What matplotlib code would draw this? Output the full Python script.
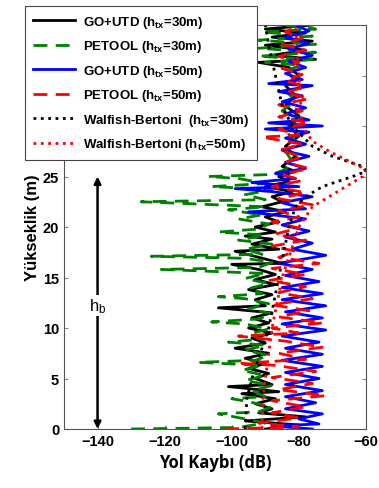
import matplotlib
matplotlib.use('Agg')
import matplotlib.pyplot as plt

plt.rcParams['font.family'] = ['Liberation Sans', 'DejaVu Sans']
plt.rcParams['mathtext.fontset'] = 'custom'
plt.rcParams['mathtext.rm'] = 'Liberation Sans'
plt.rcParams['mathtext.bf'] = 'Liberation Sans:bold'
plt.rcParams['mathtext.default'] = 'bf'

# GO+UTD, h_tx = 30 m  (height [m], path loss [dB])
h_go30 = [0.0, 0.4, 0.8, 1.2, 1.6, 2.0, 2.5, 3.0, 3.5, 3.7, 4.2, 4.4, 5.0, 5.5, 6.0, 6.5, 7.0, 7.5,
          8.0, 8.5, 9.0, 9.5, 10.0, 10.5, 11.0, 11.5, 12.0, 12.2, 12.8, 13.3, 13.8, 14.3, 14.8, 15.3,
          15.8, 16.3, 16.4, 17.0, 17.6, 17.8, 18.3, 18.8, 19.1, 19.5, 20.0, 20.5, 21.0, 21.5, 22.0,
          22.5, 23.0, 23.5, 24.0, 24.5, 25.0, 25.5, 26.0, 27.0, 28.0, 29.0, 30.0, 31.0, 32.0, 33.0,
          34.0, 35.0, 35.8, 36.3, 36.6, 37.0, 37.5, 38.0, 38.4, 38.8, 39.2, 39.6, 40.0]
loss_go30 = [-90, -80, -96, -78, -92, -88, -93, -87, -97, -86, -101, -88, -93, -89, -95, -90, -96, -89,
             -99, -90, -94, -88, -95, -89, -94, -88, -104, -90, -93, -88, -95, -87, -93, -87,
             -92, -100, -85, -92, -99, -86, -94, -88, -96, -87, -93, -86, -90, -84, -91,
             -85, -88, -82, -90, -83, -86, -81, -85, -81, -84, -80, -83, -80, -84, -81,
             -84, -80, -83, -92, -75, -88, -78, -90, -76, -88, -78, -90, -76]

# PETOOL, h_tx = 30 m
h_pe30 = [0.0, 0.15, 0.6, 1.0, 1.5, 1.7, 2.2, 2.7, 3.0, 3.2, 3.8, 4.3, 4.8, 5.3, 5.8, 6.3, 6.6, 6.8,
          7.3, 7.8, 8.3, 8.6, 8.9, 9.4, 9.9, 10.4, 10.6, 10.9, 11.4, 11.9, 12.4, 12.9, 13.1, 13.4,
          13.9, 14.4, 14.9, 15.4, 15.8, 16.0, 16.5, 16.9, 17.1, 17.3, 17.8, 18.3, 18.7, 19.2, 19.5,
          19.8, 20.3, 20.8, 21.2, 21.7, 22.0, 22.5, 22.7, 23.2, 23.7, 24.0, 24.3, 24.8, 25.0, 25.2,
          25.7, 26.5, 27.5, 28.5, 29.5, 30.5, 31.5, 32.5, 33.5, 34.5, 35.5, 36.0, 36.3, 36.6, 36.9,
          37.3, 37.7, 38.1, 38.5, 38.9, 39.3, 39.6, 40.0]
loss_pe30 = [-130, -98, -90, -96, -104, -92, -88, -95, -100, -90, -94, -88, -96, -90, -97, -91, -110, -93,
             -89, -96, -90, -101, -91, -95, -89, -96, -106, -92, -88, -95, -89, -96, -104, -91,
             -95, -89, -96, -90, -121, -92, -88, -96, -124, -91, -96, -88, -98, -90, -104,
             -92, -89, -98, -91, -101, -90, -127, -90, -96, -88, -106, -90, -98, -107, -88,
             -84, -82, -84, -81, -84, -81, -85, -81, -84, -81, -84, -79, -90, -76, -92,
             -75, -92, -75, -92, -76, -91, -75, -85]

# GO+UTD, h_tx = 50 m
h_go50 = [0.0, 0.3, 0.5, 1.0, 1.5, 2.0, 2.6, 3.2, 3.8, 4.4, 5.0, 5.6, 6.2, 6.8, 7.4, 8.0, 8.6, 9.2,
          9.8, 10.4, 11.0, 11.6, 12.2, 12.8, 13.4, 14.0, 14.6, 15.2, 15.8, 16.4, 17.2, 17.8, 18.4,
          19.0, 19.6, 20.2, 20.8, 21.5, 21.8, 22.4, 23.0, 23.5, 23.8, 24.0, 24.4, 24.8, 25.3, 25.8,
          26.4, 27.0, 27.6, 28.2, 28.8, 29.4, 29.7, 30.0, 30.3, 30.6, 31.2, 31.8, 32.4, 33.0, 33.4,
          34.0, 34.2, 34.6, 35.2, 35.8, 36.4, 37.0, 37.6, 38.2, 38.8, 39.4, 40.0]
loss_go50 = [-76, -88, -74, -80, -73, -84, -75, -84, -73, -84, -74, -84, -73, -85, -73, -84, -74, -85,
             -72, -85, -73, -84, -72, -85, -73, -85, -74, -84, -76, -86, -72, -82, -76,
             -84, -77, -85, -78, -95, -78, -85, -76, -88, -99, -80, -94, -81, -87, -78,
             -84, -77, -85, -78, -84, -77, -90, -73, -89, -77, -84, -78, -85, -79, -86,
             -76, -89, -79, -84, -78, -83, -76, -83, -77, -84, -77, -81]

# PETOOL, h_tx = 50 m
h_pe50 = [0.0, 0.2, 0.6, 1.1, 1.6, 2.2, 2.8, 3.3, 3.9, 4.5, 5.1, 5.7, 6.3, 6.5, 6.9, 7.5, 8.1, 8.7,
          9.2, 9.5, 10.0, 10.5, 11.1, 11.7, 12.3, 12.9, 13.5, 14.1, 14.7, 15.3, 15.9, 16.4, 17.0,
          17.6, 18.1, 18.7, 19.3, 19.9, 20.5, 21.0, 21.6, 22.2, 22.8, 23.4, 24.0, 24.6, 25.2, 25.8,
          26.4, 27.0, 27.6, 28.2, 28.9, 29.1, 29.7, 30.3, 30.9, 31.5, 32.1, 32.7, 33.3, 33.9, 34.5,
          35.1, 35.7, 36.3, 36.9, 37.5, 38.1, 38.7, 39.3, 40.0]
loss_pe50 = [-102, -80, -92, -80, -88, -78, -88, -72, -86, -76, -88, -75, -87, -97, -78, -86, -73, -84,
             -98, -80, -88, -73, -86, -77, -88, -76, -86, -78, -89, -78, -88, -74, -86,
             -81, -88, -78, -87, -80, -88, -80, -86, -76, -86, -78, -88, -79, -85, -77,
             -84, -79, -86, -79, -91, -80, -86, -77, -86, -79, -86, -77, -84, -78, -84,
             -79, -85, -80, -86, -78, -85, -79, -84, -80]

# Walfish-Bertoni
h_wb30 = [0, 3, 5, 10, 15, 20, 22, 23, 24, 25, 25.5, 26, 27, 28, 30, 32, 35, 38, 40]
loss_wb30 = [-96, -95.5, -94, -89, -86, -83, -81, -78, -73, -64, -60, -61, -70, -76, -82, -85, -87, -89, -90]
h_wb50 = [0, 3, 5, 10, 15, 20, 22, 23, 24, 25, 25.7, 26.5, 27.5, 28.5, 30, 35, 40]
loss_wb50 = [-91, -90.7, -90, -88, -85, -80, -76, -71, -66, -61, -60, -65, -71, -76, -79, -80, -81]

labels = ['GO+UTD (h$_{tx}$=30m)', 'PETOOL (h$_{tx}$=30m)', 'GO+UTD (h$_{tx}$=50m)',
          'PETOOL (h$_{tx}$=50m)', 'Walfish-Bertoni  (h$_{tx}$=30m)', 'Walfish-Bertoni (h$_{tx}$=50m)']

fig = plt.figure(figsize=(3.79, 4.89), dpi=100)
ax = fig.add_axes([64 / 379, 1 - 430 / 489, 302 / 379, 404 / 489])

lines = []
lines += ax.plot(loss_go30, h_go30, '-', color='k', lw=2)
lines += ax.plot(loss_pe30, h_pe30, '--', color='#008000', lw=2, dashes=(5, 3))
lines += ax.plot(loss_go50, h_go50, '-', color='#0000ff', lw=2)
lines += ax.plot(loss_pe50, h_pe50, '--', color='#ff0000', lw=2, dashes=(5, 3))
lines += ax.plot(loss_wb30, h_wb30, ':', color='k', lw=2)
lines += ax.plot(loss_wb50, h_wb50, ':', color='#ff0000', lw=2)

ax.set_xlim(-150, -60)
ax.set_ylim(0, 40)
ax.set_xticks([-140, -120, -100, -80, -60])
ax.set_yticks([0, 5, 10, 15, 20, 25, 30, 35, 40])
ax.tick_params(direction='in', top=True, right=True, length=3, color='#888888', labelsize=10.5)
for lab in ax.get_xticklabels() + ax.get_yticklabels():
    lab.set_fontweight('bold')
for sp in ax.spines.values():
    sp.set_color('#555555')
    sp.set_linewidth(0.8)

ax.set_xlabel('Yol Kaybı (dB)', fontsize=12, fontweight='bold', family=['Open Sans', 'DejaVu Sans'])
ax.set_ylabel('Yükseklik (m)', fontsize=12, fontweight='bold', labelpad=2)

# building height arrow
ax.annotate('', xy=(-140, 0), xytext=(-140, 25),
            arrowprops=dict(arrowstyle='<|-|>', color='k', lw=1.8, mutation_scale=10,
                            shrinkA=0, shrinkB=0))
ax.text(-140, 12.2, 'h$_\\mathrm{b}$', ha='center', va='center', fontsize=12,
        bbox=dict(facecolor='white', edgecolor='none', pad=1))

leg = fig.legend(lines, labels, loc='upper left', bbox_to_anchor=(25 / 379, 1 - 7 / 489),
                 borderaxespad=0, fancybox=False, framealpha=1, edgecolor='#444444',
                 prop={'weight': 'bold', 'size': 9.5}, handlelength=3.2, labelspacing=0.64,
                 borderpad=0.6, handletextpad=0.6)
leg.get_frame().set_linewidth(0.8)

fig.savefig('out.png', dpi=100)
